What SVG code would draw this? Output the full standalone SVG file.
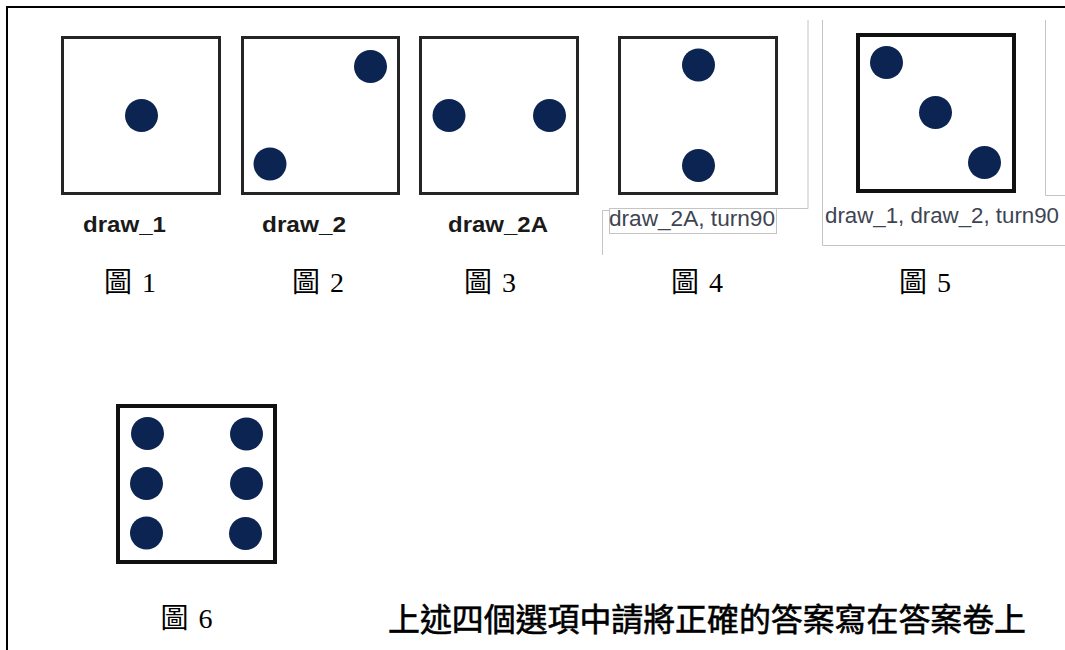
<svg xmlns="http://www.w3.org/2000/svg" width="1065" height="650" viewBox="0 0 1065 650">
<defs>
<style>
.box{fill:#fff;stroke:#252525;stroke-width:3}
.boxk{fill:#fff;stroke:#111;stroke-width:4}
.dot{fill:#0b2452}
.frame{fill:none;stroke:#c4c4c4;stroke-width:1}
.bl{font-family:"Liberation Sans",Arial,sans-serif;font-weight:bold;font-size:22px;fill:#1a1a1a}
.nl{font-family:"Liberation Sans",Arial,sans-serif;font-size:22px;fill:#3e4452}
.fig{font-family:"Liberation Serif","Noto Sans CJK TC",serif;font-size:28px;fill:#000}
.note{font-family:"Noto Sans CJK TC",sans-serif;font-size:32px;font-weight:normal;fill:#000;stroke:#000;stroke-width:0.6}
</style>
</defs>
<rect width="1065" height="650" fill="#fff"/>
<path d="M7 650 V7 H1065" fill="none" stroke="#000" stroke-width="2"/>
<g id="frames">
<path class="frame" d="M808 20 V208.5 H776.5"/>
<rect class="frame" x="609.5" y="208.5" width="167" height="25"/>
<path class="frame" d="M602.5 255 V210.5 H609.5"/>
<path class="frame" d="M822.5 20 V245.5 H1065"/>
<path class="frame" d="M1045.5 20 V195.5 H1065"/>
</g>
<g id="fig1">
<rect class="box" x="62.5" y="37.5" width="157" height="156"/>
<circle class="dot" cx="141.5" cy="115.5" r="16.5"/>
<text class="bl" x="83" y="232" textLength="83" lengthAdjust="spacingAndGlyphs">draw_1</text>
<text class="fig" x="104" y="292" word-spacing="3">圖 1</text>
</g>
<g id="fig2">
<rect class="box" x="242.5" y="37.5" width="156" height="156"/>
<circle class="dot" cx="370.5" cy="66.5" r="16.5"/>
<circle class="dot" cx="270" cy="164" r="16.5"/>
<text class="bl" x="262" y="232" textLength="84" lengthAdjust="spacingAndGlyphs">draw_2</text>
<text class="fig" x="292" y="292" word-spacing="3">圖 2</text>
</g>
<g id="fig3">
<rect class="box" x="420.5" y="37.5" width="157" height="156"/>
<circle class="dot" cx="449" cy="115.5" r="16.5"/>
<circle class="dot" cx="549.5" cy="115.5" r="16.5"/>
<text class="bl" x="448" y="232" textLength="100" lengthAdjust="spacingAndGlyphs">draw_2A</text>
<text class="fig" x="464" y="292" word-spacing="3">圖 3</text>
</g>
<g id="fig4">
<rect class="box" x="619.5" y="37.5" width="157" height="156"/>
<circle class="dot" cx="698.5" cy="65" r="16.5"/>
<circle class="dot" cx="698.5" cy="165.5" r="16.5"/>
<text class="nl" x="609" y="226" textLength="166" lengthAdjust="spacingAndGlyphs">draw_2A, turn90</text>
<text class="fig" x="671" y="292" word-spacing="3">圖 4</text>
</g>
<g id="fig5">
<rect class="boxk" x="858" y="35" width="156" height="156"/>
<circle class="dot" cx="886.5" cy="62.5" r="16.5"/>
<circle class="dot" cx="935.5" cy="112.5" r="16.5"/>
<circle class="dot" cx="984.5" cy="162.5" r="16.5"/>
<text class="nl" x="825" y="223" textLength="234" lengthAdjust="spacingAndGlyphs">draw_1, draw_2, turn90</text>
<text class="fig" x="899" y="292" word-spacing="3">圖 5</text>
</g>
<g id="fig6">
<rect class="boxk" x="118" y="406" width="157" height="156"/>
<circle class="dot" cx="147.5" cy="433.5" r="16.5"/>
<circle class="dot" cx="246.5" cy="434" r="16.5"/>
<circle class="dot" cx="146.5" cy="483.5" r="16.5"/>
<circle class="dot" cx="246.5" cy="483.5" r="16.5"/>
<circle class="dot" cx="146.5" cy="533" r="16.5"/>
<circle class="dot" cx="245.5" cy="533.5" r="16.5"/>
<text class="fig" x="160.5" y="628" word-spacing="3">圖 6</text>
</g>
<g id="note">
<text class="note" x="388" y="631" textLength="638" lengthAdjust="spacingAndGlyphs">上述四個選項中請將正確的答案寫在答案卷上</text>
</g>
</svg>
